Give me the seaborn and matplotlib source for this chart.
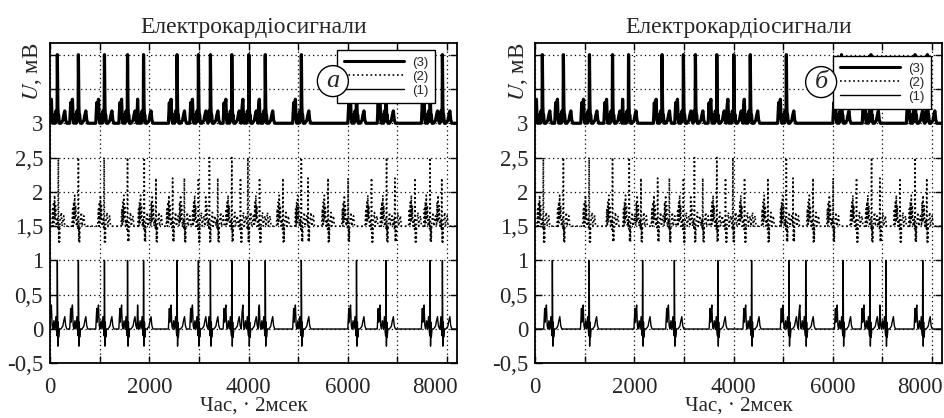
import numpy as np
import pandas as pd
import seaborn as sns
import matplotlib.pyplot as plt
from matplotlib.patches import Ellipse
from matplotlib.lines import Line2D
from matplotlib.transforms import ScaledTranslation

# beat template of the ECG (offset from R peak in 2 ms units, value in mV)
beat1_dt = [-175, -155, -145, -135, -120, -105, -90, -70, -50, -30, -15, -6, 0, 10, 18, 26, 40, 70, 110, 130, 150, 168, 190]
beat1_mv = [0.0, 0.3, 0.1, 0.25, 0.35, 0.05, 0.0, 0.12, 0.0, 0.18, -0.03, -0.1, 1.0, -0.25, 0.1, -0.12, 0.0, 0.0, 0.04, 0.12, 0.18, 0.05, 0.0]

# template of the processed signal (2)
beat2_dt = [-130, -115, -105, -95, -85, -75, -65, -55, -40, -20, -8, 0, 8, 16, 24, 32, 60, 75, 110, 130]
beat2_mv = [0.0, 0.25, 0.0, 0.35, 0.05, 0.45, 0.1, 0.3, 0.0, 0.1, -0.05, 1.0, -0.23, 0.0, -0.23, 0.05, 0.2, 0.0, 0.15, 0.0]

# R peaks of signal (1), panel a
r_times_1a = [148, 572, 1097, 1562, 1885, 2560, 2990, 3232, 3663, 4006, 4337, 5064, 6175, 6768, 7657, 7906]
r_amps_1a = [1.0, 1.0, 1.0, 1.0, 1.0, 1.0, 1.0, 1.0, 1.0, 1.0, 1.0, 1.0, 1.0, 1.0, 1.0, 1.0]

# R peaks of signal (1), panel b
r_times_1b = [350, 1091, 2168, 2808, 3683, 4364, 5118, 5455, 6208, 6747, 7071, 7812]
r_amps_1b = [1.0, 1.0, 1.0, 1.0, 1.0, 1.0, 1.0, 1.0, 1.0, 1.0, 1.0, 1.0]

# peaks of signal (2)
r_times_2 = [168, 572, 1091, 1562, 1899, 2135, 2471, 2707, 2990, 3212, 3380, 3663, 3838, 3987,
             4222, 4323, 4693, 5064, 5198, 5602, 6006, 6478, 6781, 6949, 7354, 7657, 7893]
r_amps_2 = [1.0, 1.0, 1.0, 1.0, 1.0, 0.7, 0.7, 0.7, 0.7, 1.0, 0.7, 1.0, 0.7, 1.0,
            0.7, 0.7, 0.7, 1.0, 0.7, 0.7, 0.7, 0.7, 1.0, 0.7, 0.7, 1.0, 0.7]

offsets = [0.0, 1.5, 3.0]
x_end = 8200
xticks = [0, 1000, 2000, 3000, 4000, 5000, 6000, 7000, 8000]
xlabels = ['0', '', '2000', '', '4000', '', '6000', '', '8000']
yticks = [-0.5, 0, 0.5, 1, 1.5, 2, 2.5, 3, 3.5, 4]
ylabels = ['-0,5', '0', '0,5', '1', '1,5', '2', '2,5', '3', '', '']


def build(times, amps, dts, mvs):
    xs, ys = [0.0], [0.0]
    for t, a in zip(times, amps):
        for d, v in zip(dts, mvs):
            if t + d <= xs[-1]:
                continue
            xs.append(t + d)
            ys.append(a if d == 0 else v)
    xs.append(x_end)
    ys.append(0.0)
    return np.array(xs), np.array(ys)


x1a, y1a = build(r_times_1a, r_amps_1a, beat1_dt, beat1_mv)
x1b, y1b = build(r_times_1b, r_amps_1b, beat1_dt, beat1_mv)
x2, y2 = build(r_times_2, r_amps_2, beat2_dt, beat2_mv)

sns.set_style("ticks")
plt.rcParams['font.family'] = ['Liberation Serif', 'DejaVu Serif']
plt.rcParams['mathtext.fontset'] = 'stix'

fig = plt.figure(figsize=(9.45, 4.18), dpi=100)
ax_a = fig.add_axes([50 / 945, 1 - 363.3 / 418, 407 / 945, 320.3 / 418])
ax_b = fig.add_axes([535 / 945, 1 - 363.3 / 418, 407 / 945, 320.3 / 418])

# (axes, signal 1 x, signal 1 y, tag, legend anchor, circle centre)
panels = [(ax_a, x1a, y1a, 'а', (0.705, 0.978), (0.695, 0.881)),
          (ax_b, x1b, y1b, 'б', (0.732, 0.959), (0.703, 0.878))]

for ax, xs1, ys1, tag, lg_anchor, circ in panels:
    sns.lineplot(x=x1a, y=offsets[2] + np.abs(y1a), ax=ax, color='black', lw=2.3,
                 sort=False, estimator=None)
    sns.lineplot(x=x2, y=offsets[1] + y2, ax=ax, color='black', lw=1.2, linestyle=':',
                 sort=False, estimator=None)
    sns.lineplot(x=xs1, y=offsets[0] + ys1, ax=ax, color='black', lw=1.0,
                 sort=False, estimator=None)
    ax.set_xlim(0, x_end)
    ax.set_ylim(-0.5, 4.17)
    ax.set_xticks(xticks)
    ax.set_xticklabels(xlabels)
    ax.set_yticks(yticks)
    ax.set_yticklabels(ylabels)
    ax.grid(True, color='black', linestyle=(0, (1, 2.5)), lw=0.9)
    ax.tick_params(direction='in', top=True, right=True, length=5, width=1,
                   labelsize=16.5, color='black')
    ax.tick_params(axis='x', pad=10)
    ax.tick_params(axis='y', pad=5)
    last = ax.get_xticklabels()[-1]
    last.set_transform(last.get_transform() + ScaledTranslation(-12 / 100, 0, fig.dpi_scale_trans))
    for s in ax.spines.values():
        s.set_linewidth(1.3)
        s.set_color('black')
    ax.set_title('Електрокардіосигнали', fontsize=17, pad=7)
    ax.set_xlabel('Час, · 2мсек', fontsize=15, labelpad=-1)
    ax.set_ylabel('')

    handles = [Line2D([], [], color='black', lw=2.2),
               Line2D([], [], color='black', lw=1.2, linestyle=':'),
               Line2D([], [], color='black', lw=1.0)]
    leg = ax.legend(handles, ['(3)', '(2)', '(1)'], loc='upper left',
                    bbox_to_anchor=lg_anchor, borderaxespad=0, fancybox=False,
                    edgecolor='black', framealpha=1, handlelength=4.6,
                    labelspacing=0.12, borderpad=0.5, handletextpad=0.6,
                    prop={'family': 'Liberation Sans', 'size': 9.5})
    leg.get_frame().set_linewidth(1.0)
    leg.set_zorder(5)

    ell = Ellipse(circ, width=31 / 407, height=31 / 320.3, transform=ax.transAxes,
                  facecolor='white', edgecolor='black', lw=1.0, zorder=6)
    ax.add_patch(ell)
    ax.text(circ[0], circ[1], tag, transform=ax.transAxes, ha='center', va='center',
            fontsize=19, fontstyle='italic', zorder=7)

    pos = ax.get_position()
    fig.text(pos.x0 - 17 / 945, 1 - 72 / 418, '$U$, мВ', rotation=90, ha='center', va='center',
             fontsize=16.5)

fig.savefig('out.png', dpi=100)
